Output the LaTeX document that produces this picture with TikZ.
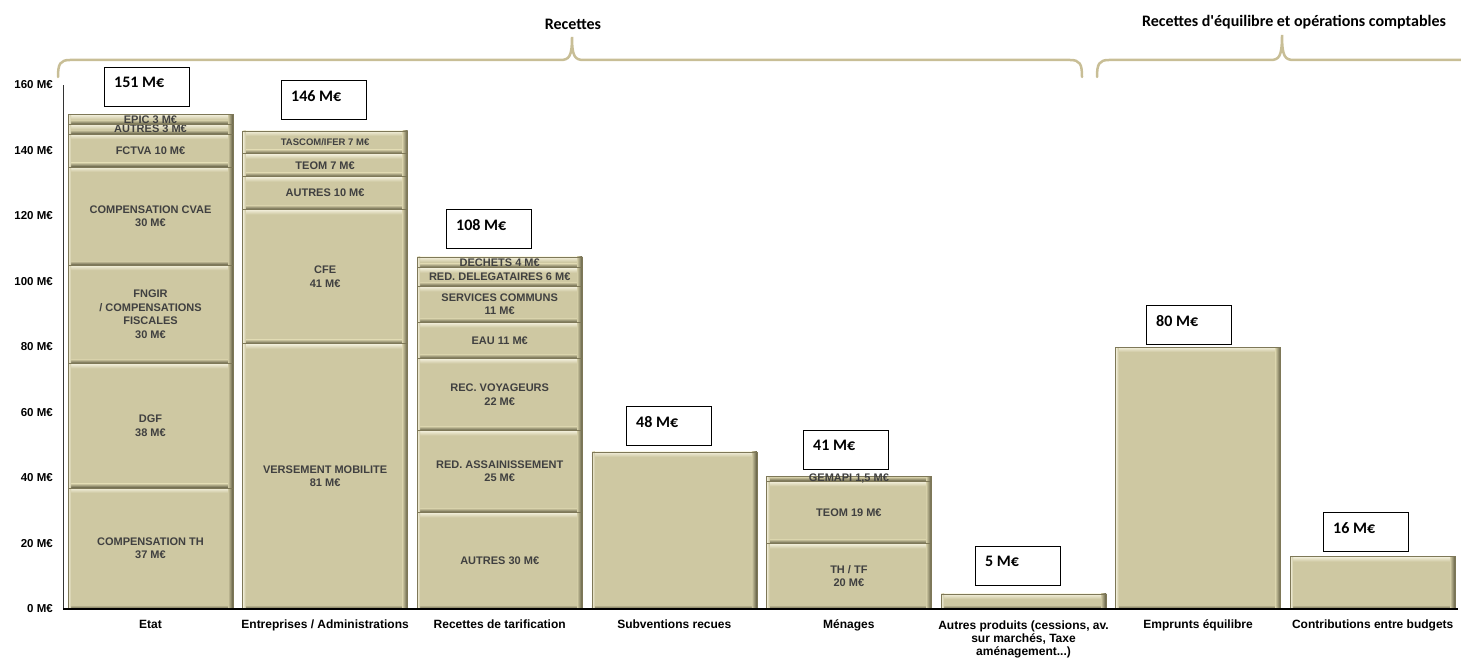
\documentclass[tikz,border=0pt]{standalone}
\usepackage{fontspec}
\setmainfont{Liberation Sans}
\newfontfamily\calib{Carlito}
\definecolor{barfill}{HTML}{CEC8A2}
\definecolor{barlight}{HTML}{F4F1DE}
\definecolor{bardark}{HTML}{5E5A40}
\definecolor{barline}{HTML}{7E7858}
\definecolor{labgray}{HTML}{404040}
\definecolor{bracecol}{HTML}{C8BE96}
\newcommand\bseg[5]{%
  \pgfmathsetmacro\segyb{48+3.275*#3}%
  \pgfmathsetmacro\segyt{48+3.275*#4}%
  \pgfmathsetmacro\segxr{#2+165}%
  \fill[barfill] (#2,\segyb) rectangle (\segxr,\segyt);
  \shade[top color=barlight, bottom color=barfill] (#2,\segyt-5) rectangle (\segxr,\segyt);
  \shade[top color=barfill, bottom color=bardark] (#2,\segyb) rectangle (\segxr,\segyb+4);
  \shade[left color=barfill, right color=bardark] (\segxr-5,\segyb) rectangle (\segxr,\segyt);
  \shade[left color=barlight, right color=barfill] (#2,\segyb) rectangle (#2+3,\segyt);
  \draw[barline, line width=0.6pt] (#2,\segyb) rectangle (\segxr,\segyt);
  \node[seglabel] (#1) at ({#2+82.5},{(\segyb+\segyt)/2}) {#5};
}
\begin{document}
\begin{tikzpicture}[x=1pt,y=1pt,
  seglabel/.style={font=\bfseries\fontsize{11}{13.5}\selectfont, text=labgray, align=center, inner sep=0pt},
  catmulti/.style={font=\bfseries\fontsize{12}{13}\selectfont, text=black, align=center, anchor=north, inner sep=0pt},
  catlabel/.style={catmulti, text height=9pt},
  ticklabel/.style={font=\bfseries\fontsize{11.5}{13}\selectfont, text=black, anchor=east, inner sep=0pt},
  valbox/.style={draw=black, line width=0.8pt, fill=white, minimum width=85pt, minimum height=39pt, anchor=north west, inner sep=0pt},
  valtext/.style={font=\calib\bfseries\fontsize{16}{18}\selectfont, anchor=north west, inner sep=0pt},
  heading/.style={font=\calib\bfseries\fontsize{16}{18}\selectfont, inner sep=0pt},
  brace/.style={draw=bracecol, line width=2.5pt, line cap=round}]
\useasboundingbox (0,0) rectangle (1461,657);

% braces
\draw[brace] (58,580) .. controls (58,593) and (60,597) .. (70,597) -- (560,597)
  .. controls (569,597) and (572,600) .. (572,620)
  .. controls (572,600) and (575,597) .. (584,597) -- (1070,597)
  .. controls (1080,597) and (1082,593) .. (1082,580);
\draw[brace] (1097,580) .. controls (1097,593) and (1099,597) .. (1109,597) -- (1270,597)
  .. controls (1279,597) and (1282,600) .. (1282,622)
  .. controls (1282,600) and (1285,597) .. (1294,597) -- (1461,597);
\node[heading] (h1) at (573,633) {Recettes};
\node[heading] (h2) at (1294,635) {Recettes d'équilibre et opérations comptables};

% Etat
\bseg{e1}{68}{0}{37}{COMPENSATION TH\\37 M€}
\bseg{e2}{68}{37}{75}{DGF\\38 M€}
\bseg{e3}{68}{75}{105}{FNGIR\\/ COMPENSATIONS\\FISCALES\\30 M€}
\bseg{e4}{68}{105}{135}{COMPENSATION CVAE\\30 M€}
\bseg{e5}{68}{135}{145}{FCTVA 10 M€}
\bseg{e6}{68}{145}{148}{AUTRES 3 M€}
\bseg{e7}{68}{148}{151}{EPIC 3 M€}
% Entreprises
\bseg{b1}{242.6}{0}{81}{VERSEMENT MOBILITE\\81 M€}
\bseg{b2}{242.6}{81}{122}{CFE\\41 M€}
\bseg{b3}{242.6}{122}{132}{AUTRES 10 M€}
\bseg{b4}{242.6}{132}{139}{TEOM 7 M€}
\bseg{b5}{242.6}{139}{146}{\fontsize{9.5}{11}\selectfont TASCOM/IFER 7 M€}
% Tarification
\bseg{c1}{417.2}{0}{29.5}{AUTRES 30 M€}
\bseg{c2}{417.2}{29.5}{54.5}{RED. ASSAINISSEMENT\\25 M€}
\bseg{c3}{417.2}{54.5}{76.5}{REC. VOYAGEURS\\22 M€}
\bseg{c4}{417.2}{76.5}{87.5}{EAU 11 M€}
\bseg{c5}{417.2}{87.5}{98.5}{SERVICES COMMUNS\\11 M€}
\bseg{c6}{417.2}{98.5}{104.2}{RED. DELEGATAIRES 6 M€}
\bseg{c7}{417.2}{104.2}{107.5}{DECHETS 4 M€}
% Subventions
\bseg{d1}{591.8}{0}{48}{}
% Menages
\bseg{m1}{766.4}{0}{20}{TH / TF\\20 M€}
\bseg{m2}{766.4}{20}{39}{TEOM 19 M€}
\bseg{m3}{766.4}{39}{40.6}{GEMAPI 1,5 M€}
% Autres produits
\bseg{p1}{941}{0}{4.6}{}
% Emprunts
\bseg{g1}{1115.6}{0}{80}{}
% Contributions
\bseg{k1}{1290.2}{0}{16}{}

% axes
\draw[black!80, line width=1pt] (63,48) -- (63,572);
\draw[black, line width=1.2pt] (63,48) -- (1458,48);
\foreach \v in {0,20,...,160} {
  \node[ticklabel] (t\v) at (53,{48+3.275*\v}) {\v\ M€};
}

% category labels
\node[catlabel] (l1) at (150.5,38) {Etat};
\node[catlabel] (l2) at (325.1,38) {Entreprises / Administrations};
\node[catlabel] (l3) at (499.7,38) {Recettes de tarification};
\node[catlabel] (l4) at (674.3,38) {Subventions recues};
\node[catlabel] (l5) at (848.9,38) {Ménages};
\node[catmulti] (l6) at (1023.5,36.5) {Autres produits (cessions, av.\\sur marchés, Taxe\\aménagement...)};
\node[catlabel] (l7) at (1198.1,38) {Emprunts équilibre};
\node[catlabel] (l8) at (1372.7,38) {Contributions entre budgets};

% value boxes
\node[valbox] (v1b) at (104,590) {};
\node[valtext] (v1) at ([xshift=10pt,yshift=-10pt]v1b.north west) {151 M€};
\node[valbox] (v2b) at (281,577) {};
\node[valtext] (v2) at ([xshift=10pt,yshift=-10pt]v2b.north west) {146 M€};
\node[valbox] (v3b) at (446,448) {};
\node[valtext] (v3) at ([xshift=10pt,yshift=-10pt]v3b.north west) {108 M€};
\node[valbox] (v4b) at (626,251) {};
\node[valtext] (v4) at ([xshift=10pt,yshift=-10pt]v4b.north west) {48 M€};
\node[valbox] (v5b) at (803,227) {};
\node[valtext] (v5) at ([xshift=10pt,yshift=-10pt]v5b.north west) {41 M€};
\node[valbox] (v6b) at (975,111) {};
\node[valtext] (v6) at ([xshift=10pt,yshift=-10pt]v6b.north west) {5 M€};
\node[valbox] (v7b) at (1146,352) {};
\node[valtext] (v7) at ([xshift=10pt,yshift=-10pt]v7b.north west) {80 M€};
\node[valbox] (v8b) at (1323,145) {};
\node[valtext] (v8) at ([xshift=10pt,yshift=-10pt]v8b.north west) {16 M€};
\end{tikzpicture}
\end{document}
